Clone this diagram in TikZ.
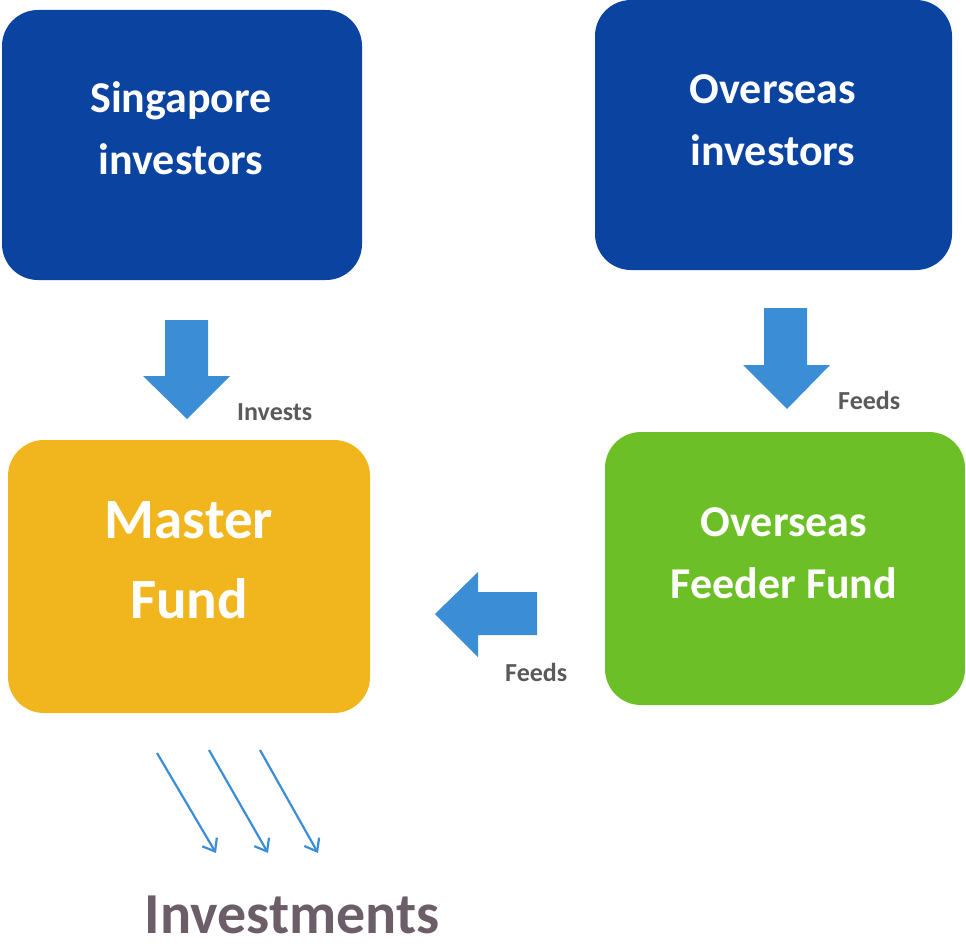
\documentclass[tikz,border=0pt]{standalone}
\usepackage{fontspec}
\setmainfont{Carlito}
\usetikzlibrary{arrows.meta}
\definecolor{boxblue}{HTML}{0B43A0}
\definecolor{arrowblue}{HTML}{3B8ED6}
\definecolor{fundyellow}{HTML}{F1B51D}
\definecolor{feedergreen}{HTML}{6CBF26}
\definecolor{labelgray}{HTML}{5A5A5A}
\definecolor{invgray}{HTML}{6B5E68}
\begin{document}
\begin{tikzpicture}[x=1pt,y=-1pt,
  box/.style={rectangle, rounded corners=36pt, inner sep=0pt, draw=none},
  boxtext/.style={anchor=base, text=white, inner sep=0pt, font=\bfseries\fontsize{44}{52}\selectfont},
  bigtext/.style={anchor=base, text=white, inner sep=0pt, font=\bfseries\fontsize{57}{66}\selectfont},
  lbl/.style={anchor=base west, text=labelgray, inner sep=0pt, font=\bfseries\fontsize{26}{30}\selectfont},
  blockarrow/.style={fill=arrowblue},
  thinarrow/.style={draw=arrowblue, line width=2.2pt, -{Straight Barb[length=11pt,width=17pt,line width=2.2pt]}}
]
\useasboundingbox (0,0) rectangle (966,947);

% boxes
\node[box, fill=boxblue, minimum width=360pt, minimum height=270pt] (sg) at (182,145) {};
\node[box, fill=boxblue, minimum width=357pt, minimum height=270pt] (ov) at (773.5,135) {};
\node[box, fill=fundyellow, minimum width=362pt, minimum height=273pt] (mf) at (189,576.5) {};
\node[box, fill=feedergreen, minimum width=360pt, minimum height=273pt] (ff) at (785,568.5) {};

% box texts
\node[boxtext] (sg1) at (181,113) {Singapore};
\node[boxtext] (sg2) at (181,175) {investors};
\node[boxtext] (ov1) at (773,104) {Overseas};
\node[boxtext] (ov2) at (773,165) {investors};
\node[bigtext] (mf1) at (189,538) {Master};
\node[bigtext] (mf2) at (189,618) {Fund};
\node[boxtext] (ff1) at (784,536) {Overseas};
\node[boxtext] (ff2) at (784,598) {Feeder Fund};

% block arrows
\fill[blockarrow] (165,320) -- (208,320) -- (208,376) -- (230,376) -- (187,419) -- (143,376) -- (165,376) -- cycle;
\fill[blockarrow] (764,308) -- (807,308) -- (807,365) -- (830,365) -- (787,409) -- (743,365) -- (764,365) -- cycle;
\fill[blockarrow] (537,592) -- (537,635) -- (478,635) -- (478,657) -- (435,614) -- (478,572) -- (478,592) -- cycle;

% labels
\node[lbl] (l1) at (237,420) {Invests};
\node[lbl] (l2) at (838,409) {Feeds};
\node[lbl] (l3) at (505,681) {Feeds};

% thin arrows
\coordinate (a1s) at (157,753); \coordinate (a1e) at (216,853);
\coordinate (a2s) at (209,750); \coordinate (a2e) at (268,853);
\coordinate (a3s) at (260,750); \coordinate (a3e) at (318,853);
\draw[thinarrow] (a1s) -- (a1e);
\draw[thinarrow] (a2s) -- (a2e);
\draw[thinarrow] (a3s) -- (a3e);

\node[anchor=base, text=invgray, inner sep=0pt, font=\bfseries\fontsize{58}{66}\selectfont] (inv) at (292,933) {Investments};
\end{tikzpicture}
\end{document}
